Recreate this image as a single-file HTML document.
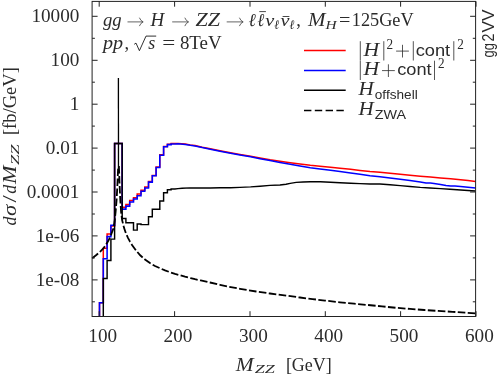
<!DOCTYPE html>
<html><head><meta charset="utf-8"><title>gg2VV</title>
<style>
html,body{margin:0;padding:0;background:#fff;}
svg{display:block;font-family:"Liberation Serif",serif;fill:#2b2b2b;will-change:transform;transform:translateZ(0);}
.i{font-style:italic;}
.s{font-family:"Liberation Sans",sans-serif;}
</style></head><body>
<svg width="498" height="377" viewBox="0 0 498 377">
<rect width="498" height="377" fill="#fff"/>
<!-- curves -->
<g fill="none" stroke-linejoin="miter" stroke-linecap="butt">
<path d="M99.5,316.4 L99.5,302.8 L103.3,302.8 L103.3,248.2 L107.1,248.2 L107.1,234.0 L110.9,234.0 L110.9,226.0 L114.6,226.0 L114.6,143.4 L122.2,143.4 L122.2,207.3 L125.9,207.3 L125.9,204.5 L129.7,204.5 L129.7,200.5 L133.5,200.5 L133.5,197.7 L137.2,197.7 L137.2,194.0 L141.0,194.0 L141.0,190.3 L144.8,190.3 L144.8,186.9 L148.5,186.9 L148.5,181.6 L152.3,181.6 L152.3,175.4 L156.1,175.4 L156.1,167.1 L159.8,167.1 L159.8,154.8 L163.6,154.8 L163.6,146.4 L167.4,146.4 L167.4,144.2 L171.1,144.2 L171.1,143.5 L174.9,143.5 L178.1,143.4 L185.3,144.0 L190.2,144.9 L195.0,145.6 L202.2,147.2 L210.3,148.8 L220.0,150.7 L230.5,152.7 L240.0,154.4 L250.6,156.2 L260.0,158.0 L270.0,159.8 L280.0,161.3 L290.2,162.7 L300.0,164.0 L310.3,165.3 L320.0,166.3 L330.5,167.3 L340.0,168.3 L350.6,169.3 L360.0,170.4 L370.0,171.5 L380.0,172.3 L390.0,173.3 L400.2,174.3 L410.0,175.3 L420.3,176.3 L430.4,177.1 L440.5,177.9 L450.6,178.8 L460.6,179.7 L468.0,180.6 L475.5,181.5" stroke="#ff0000" stroke-width="1.5"/>
<path d="M99.5,316.4 L99.5,302.8 L103.3,302.8 L103.3,258.8 L107.1,258.8 L107.1,236.6 L110.9,236.6 L110.9,225.2 L114.6,225.2 L114.6,143.4 L122.2,143.4 L122.2,209.1 L125.9,209.1 L125.9,206.1 L129.7,206.1 L129.7,202.0 L133.5,202.0 L133.5,199.0 L137.2,199.0 L137.2,195.7 L141.0,195.7 L141.0,191.2 L144.8,191.2 L144.8,187.9 L148.5,187.9 L148.5,182.1 L152.3,182.1 L152.3,175.8 L156.1,175.8 L156.1,167.5 L159.8,167.5 L159.8,155.2 L163.6,155.2 L163.6,146.8 L167.4,146.8 L167.4,144.6 L171.1,144.6 L171.1,143.9 L174.9,143.9 L178.1,143.8 L185.3,144.4 L190.2,145.3 L195.0,146.0 L202.2,147.6 L210.3,149.2 L220.0,151.2 L230.5,153.2 L240.0,155.0 L250.6,156.8 L260.0,158.7 L270.0,160.6 L280.0,162.5 L290.2,164.3 L300.0,166.0 L310.3,167.7 L320.0,169.0 L330.5,170.3 L340.0,171.5 L350.6,172.9 L360.0,174.3 L370.0,175.8 L380.0,176.7 L390.0,178.0 L400.2,179.3 L410.0,180.6 L420.3,181.9 L426.0,182.9 L430.4,183.0 L434.0,183.4 L440.5,184.4 L446.0,185.6 L450.6,186.0 L455.0,186.0 L460.6,186.5 L468.0,187.3 L475.5,188.0" stroke="#0000ff" stroke-width="1.55"/>
<path d="M103.3,316.4 L103.3,278.4 L107.1,278.4 L107.1,260.4 L110.9,260.4 L110.9,239.1 L114.6,239.1 L114.6,143.4 L122.2,143.4 L122.2,218.4 L125.9,218.4 L125.9,222.8 L133.5,222.8 L133.5,230.1 L137.2,230.1 L137.2,224.0 L141.0,224.0 L141.0,224.6 L148.5,224.6 L148.5,216.8 L152.3,216.8 L152.3,209.3 L159.8,209.3 L159.8,201.0 L163.6,201.0 L163.6,192.7 L167.4,192.7 L167.4,189.8 L171.1,189.8 L171.1,189.0 L174.9,189.0 L178.0,188.6 L182.1,188.2 L190.0,187.9 L200.0,187.9 L210.3,187.9 L220.0,187.8 L230.5,187.7 L240.0,187.4 L250.6,186.9 L260.0,186.2 L270.0,185.4 L280.0,185.0 L286.0,184.2 L290.2,183.4 L296.2,182.4 L303.0,182.0 L310.3,181.8 L320.4,181.8 L330.5,182.2 L340.0,182.7 L350.6,183.2 L360.0,183.6 L370.0,184.0 L380.0,184.0 L390.0,184.8 L400.2,185.6 L410.0,186.5 L420.3,187.4 L430.0,188.0 L440.5,188.6 L450.0,189.3 L460.6,190.0 L468.0,190.5 L475.5,191.0" stroke="#000" stroke-width="1.45"/>
<path d="M118.4,78 L118.5,168" stroke="#000" stroke-width="1.3"/>
<path d="M92.2,258.3 L96.0,255.3 L100.0,251.8 L103.1,248.7 L106.0,244.6 L108.2,241.1 L110.5,236.2 L113.2,229.0 L114.6,221.5 L115.6,212.0 L116.6,200.0 L117.4,185.0 L118.2,166.0 M118.9,166.0 L119.6,185.0 L120.3,200.0 L121.1,212.0 L122.1,220.0 L124.1,228.1 L126.0,233.5 L128.1,238.1 L130.0,241.6 L132.2,245.2 L136.0,250.4 L140.2,255.3 L145.0,259.5 L150.3,263.3 L155.0,266.0 L160.4,268.4 L165.0,270.4 L170.5,272.4 L175.0,273.9 L180.6,275.4 L185.0,276.7 L190.6,278.1 L195.0,279.2 L200.7,280.4 L210.0,282.5 L220.0,284.8 L228.1,286.6 L240.0,288.8 L256.2,291.5 L270.0,293.5 L284.3,295.4 L300.0,297.5 L312.5,299.1 L325.0,300.6 L340.0,302.3 L354.0,303.7 L368.1,305.0 L382.0,306.4 L396.2,307.8 L410.0,308.9 L424.3,310.0 L438.0,310.9 L452.5,311.8 L465.0,312.7 L475.5,313.4" stroke="#000" stroke-width="1.8" stroke-dasharray="7.6 2.4"/>
</g>
<!-- frame -->
<g fill="none" stroke="#222" stroke-width="1.0">
<rect x="92.1" y="1.4" width="383.5" height="315.1"/>
<path d="M92.1,301.8h2.8 M475.6,301.8h-2.8 M92.1,279.9h5.5 M475.6,279.9h-5.5 M92.1,257.9h2.8 M475.6,257.9h-2.8 M92.1,235.9h5.5 M475.6,235.9h-5.5 M92.1,214.0h2.8 M475.6,214.0h-2.8 M92.1,192.0h5.5 M475.6,192.0h-5.5 M92.1,170.1h2.8 M475.6,170.1h-2.8 M92.1,148.1h5.5 M475.6,148.1h-5.5 M92.1,126.1h2.8 M475.6,126.1h-2.8 M92.1,104.2h5.5 M475.6,104.2h-5.5 M92.1,82.2h2.8 M475.6,82.2h-2.8 M92.1,60.3h5.5 M475.6,60.3h-5.5 M92.1,38.3h2.8 M475.6,38.3h-2.8 M92.1,16.3h5.5 M475.6,16.3h-5.5 M99.2,316.5v-5.3 M99.2,1.4v5.3 M174.6,316.5v-5.3 M174.6,1.4v5.3 M250.0,316.5v-5.3 M250.0,1.4v5.3 M325.3,316.5v-5.3 M325.3,1.4v5.3 M400.6,316.5v-5.3 M400.6,1.4v5.3 M476.0,316.5v-5.3 M476.0,1.4v5.3"/>
</g>
<!-- tick labels -->
<g font-size="19.2">
<text x="79.4" y="22.2" text-anchor="end">10000</text>
<text x="79.4" y="66.2" text-anchor="end">100</text>
<text x="79.4" y="110.1" text-anchor="end">1</text>
<text x="79.4" y="154.0" text-anchor="end">0.01</text>
<text x="79.4" y="197.9" text-anchor="end">0.0001</text>
<text x="79.4" y="241.8" text-anchor="end">1e-06</text>
<text x="79.4" y="285.8" text-anchor="end">1e-08</text>
<text x="102.7" y="341.8" text-anchor="middle">100</text>
<text x="178.0" y="341.8" text-anchor="middle">200</text>
<text x="253.4" y="341.8" text-anchor="middle">300</text>
<text x="328.7" y="341.8" text-anchor="middle">400</text>
<text x="404.0" y="341.8" text-anchor="middle">500</text>
<text x="479.4" y="341.8" text-anchor="middle">600</text>
</g>
<!-- axis titles -->
<text x="235.7" y="370.8" font-size="18.6" class="i" textLength="17.9" lengthAdjust="spacingAndGlyphs">M</text>
<text x="254.7" y="373.4" font-size="13.4" class="i" textLength="20.0" lengthAdjust="spacingAndGlyphs">ZZ</text>
<text x="285.9" y="370.8" font-size="18.8" textLength="45.9" lengthAdjust="spacingAndGlyphs">[GeV]</text>
<g transform="translate(15.9,225.5) rotate(-90)">
<text x="0" y="0" font-size="18.6" class="i" textLength="8.9" lengthAdjust="spacingAndGlyphs">d</text>
<text x="9.5" y="0" font-size="18.6" class="i" textLength="11.2" lengthAdjust="spacingAndGlyphs">&#963;</text>
<text x="22.9" y="0" font-size="18.6" textLength="7.3" lengthAdjust="spacingAndGlyphs">/</text>
<text x="31.8" y="0" font-size="18.6" class="i" textLength="8.9" lengthAdjust="spacingAndGlyphs">d</text>
<text x="41.4" y="0" font-size="18.6" class="i" textLength="18.4" lengthAdjust="spacingAndGlyphs">M</text>
<text x="60.5" y="3.0" font-size="13.4" class="i" textLength="20.7" lengthAdjust="spacingAndGlyphs">ZZ</text>
<text x="90.4" y="0" font-size="18.8" textLength="68" lengthAdjust="spacingAndGlyphs">[fb/GeV]</text>
</g>
<!-- header text -->
<text x="103" y="26.4" font-size="18.4" class="i" textLength="18.7" lengthAdjust="spacingAndGlyphs">gg</text>
<text x="150.6" y="26.4" font-size="18.4" class="i" textLength="13.7" lengthAdjust="spacingAndGlyphs">H</text>
<text x="195.6" y="26.4" font-size="18.4" class="i" textLength="24.5" lengthAdjust="spacingAndGlyphs">ZZ</text>
<text x="248.6" y="26.4" font-size="18.4" class="i" textLength="7.3" lengthAdjust="spacingAndGlyphs">&#8467;</text>
<text x="257.3" y="26.4" font-size="18.4" class="i" textLength="7.0" lengthAdjust="spacingAndGlyphs">&#8467;</text>
<text x="265.3" y="26.4" font-size="16.4" class="i" textLength="9.0" lengthAdjust="spacingAndGlyphs">&#957;</text>
<text x="274.3" y="29.0" font-size="13.0" class="i" textLength="5.1" lengthAdjust="spacingAndGlyphs">&#8467;</text>
<text x="280.6" y="26.4" font-size="16.4" class="i" textLength="9.0" lengthAdjust="spacingAndGlyphs">&#957;</text>
<text x="289.5" y="29.0" font-size="13.0" class="i" textLength="5.1" lengthAdjust="spacingAndGlyphs">&#8467;</text>
<text x="296.3" y="26.4" font-size="18.4">,</text>
<text x="308.1" y="26.4" font-size="18.4" class="i" textLength="17.5" lengthAdjust="spacingAndGlyphs">M</text>
<text x="325.6" y="29.0" font-size="13.0" class="i" textLength="11.1" lengthAdjust="spacingAndGlyphs">H</text>
<text x="338.9" y="26.4" font-size="18.4" textLength="11.4" lengthAdjust="spacingAndGlyphs">=</text>
<text x="351.8" y="26.4" font-size="18.4" textLength="61.8" lengthAdjust="spacingAndGlyphs">125GeV</text>
<path d="M259.3,11.6H265.9 M282.6,16.5H289.4" stroke="#1a1a1a" stroke-width="0.8" fill="none"/>
<text x="103" y="49.2" font-size="18.4" class="i" textLength="20.1" lengthAdjust="spacingAndGlyphs">pp</text>
<text x="124.6" y="49.2" font-size="18.4">,</text>
<text x="148.2" y="49.2" font-size="18.4" class="i" textLength="7.0" lengthAdjust="spacingAndGlyphs">s</text>
<path d="M134.2,44.3l1.8,-1.2 3.4,7.6 6.6,-14.6H156.2" stroke="#1a1a1a" stroke-width="0.9" fill="none"/>
<text x="162.3" y="49.2" font-size="18.4" textLength="13.0" lengthAdjust="spacingAndGlyphs">=</text>
<text x="179.9" y="49.2" font-size="18.4" textLength="41.8" lengthAdjust="spacingAndGlyphs">8TeV</text>
<path d="M127.5,21.9H142.79999999999998 M139.39999999999998,17.7Q140.6,20.9 143.2,21.9Q140.6,22.9 139.39999999999998,26.099999999999998 M172.2,21.9H188.2 M184.79999999999998,17.7Q186.0,20.9 188.6,21.9Q186.0,22.9 184.79999999999998,26.099999999999998 M226.7,21.9H242.79999999999998 M239.39999999999998,17.7Q240.6,20.9 243.2,21.9Q240.6,22.9 239.39999999999998,26.099999999999998" stroke="#333" stroke-width="0.75" fill="none"/>
<!-- legend -->
<g fill="none" stroke-width="1.5">
<path d="M304,50.5H345.7" stroke="#ff0000"/>
<path d="M304,70.4H345.7" stroke="#0000ff"/>
<path d="M304,90.3H345.7" stroke="#000"/>
<path d="M304,110.4H345.7" stroke="#000" stroke-dasharray="7.4 3.4"/>
</g>
<path d="M360.3,41.2V60.5 M383.8,41.2V60.5 M413.3,41.2V60.5 M453.8,41.2V60.5 M396.1,51.1H408.9 M402.5,44.8V57.5 M382.0,70.6H394.8 M388.4,64.3V77.0 M360.3,60.7V80.0 M434.5,60.7V80.0" stroke="#2b2b2b" stroke-width="0.8" fill="none"/>
<text x="363.4" y="55.9" font-size="18.4" class="i" textLength="15.7" lengthAdjust="spacingAndGlyphs">H</text>
<text x="386.6" y="48.699999999999996" font-size="14.0" textLength="6.6" lengthAdjust="spacingAndGlyphs">2</text>
<text x="415.7" y="55.9" font-size="16.8" class="s" textLength="34.5" lengthAdjust="spacingAndGlyphs">cont</text>
<text x="457.2" y="48.699999999999996" font-size="14.0" textLength="6.6" lengthAdjust="spacingAndGlyphs">2</text>
<text x="363.4" y="75.4" font-size="18.4" class="i" textLength="15.7" lengthAdjust="spacingAndGlyphs">H</text>
<text x="397.2" y="75.4" font-size="16.8" class="s" textLength="34.4" lengthAdjust="spacingAndGlyphs">cont</text>
<text x="437.9" y="68.2" font-size="14.0" textLength="6.6" lengthAdjust="spacingAndGlyphs">2</text>
<text x="358.6" y="95.3" font-size="18.4" class="i" textLength="15.2" lengthAdjust="spacingAndGlyphs">H</text>
<text x="374.8" y="98.5" font-size="13.5" class="s" textLength="42.9" lengthAdjust="spacingAndGlyphs">offshell</text>
<text x="358.6" y="115.3" font-size="18.4" class="i" textLength="15.2" lengthAdjust="spacingAndGlyphs">H</text>
<text x="374.8" y="118.5" font-size="13.5" class="s" textLength="31.3" lengthAdjust="spacingAndGlyphs">ZWA</text>
<!-- gg2VV -->
<g transform="translate(493.9,57.5) rotate(-90)">
<text class="s" font-size="16.6" x="0" y="0" textLength="14.4" lengthAdjust="spacingAndGlyphs">gg</text>
<text class="s" font-size="16.6" x="15.9" y="0" textLength="8.0" lengthAdjust="spacingAndGlyphs">2</text>
<text class="s" font-size="16.6" x="25.0" y="0" textLength="23.1" lengthAdjust="spacingAndGlyphs">VV</text>
</g>
</svg>
</body></html>
